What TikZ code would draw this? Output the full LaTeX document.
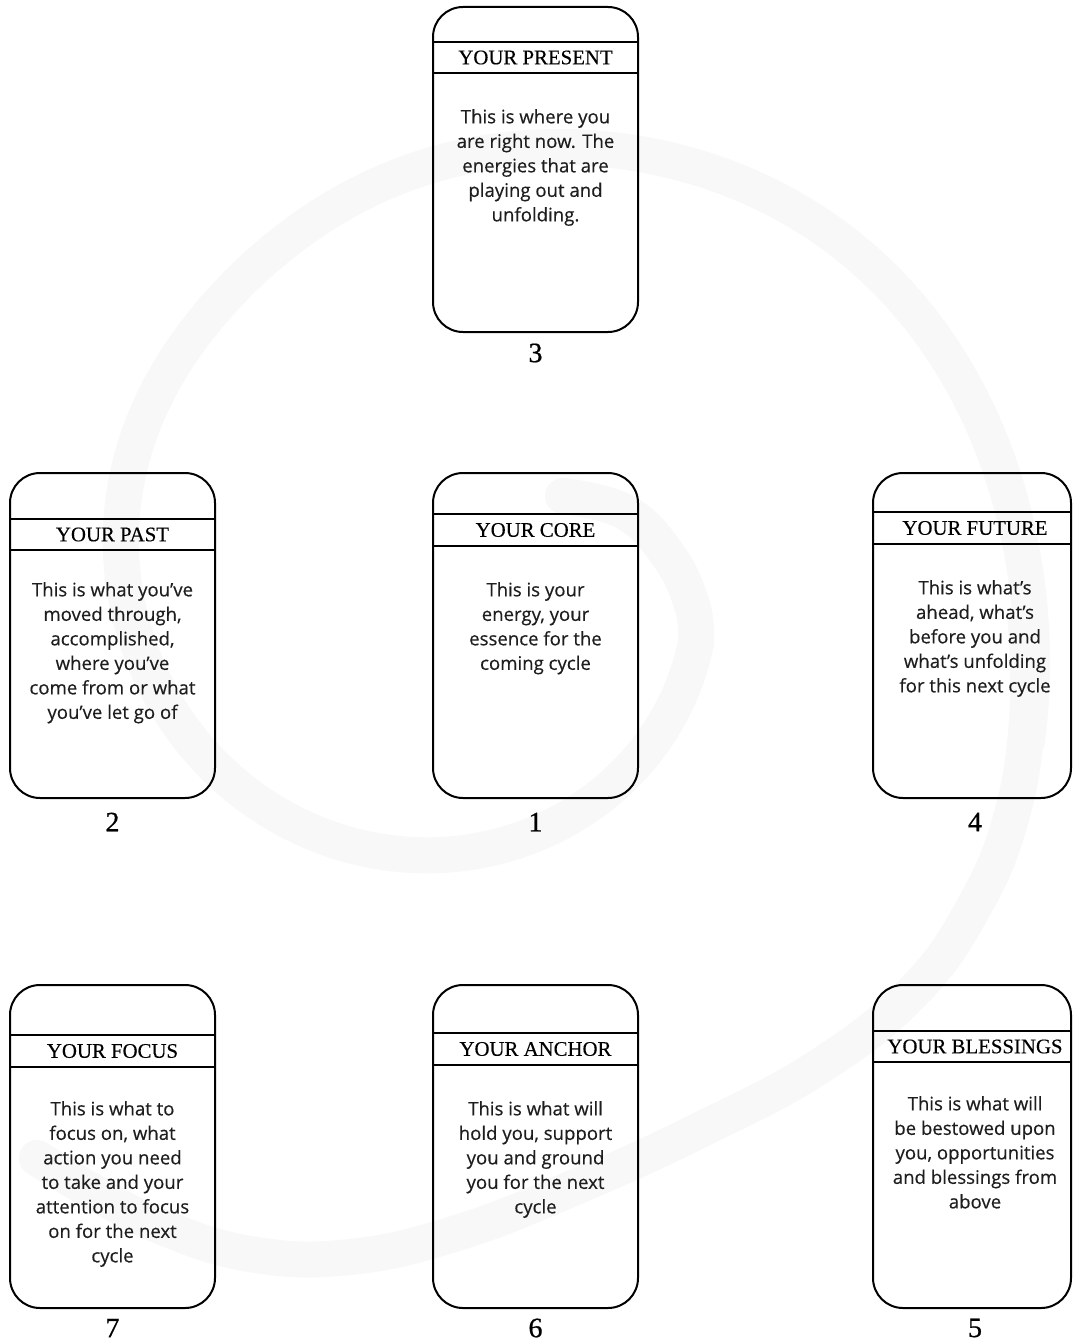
\documentclass[tikz,border=0pt]{standalone}
\usepackage{fontspec}
\setmainfont{Liberation Serif}
\newfontfamily\bodyfont[FakeBold=0.35]{Open Sans}
\newfontfamily\hdrfont[FakeBold=0.3]{Liberation Serif}
\newfontfamily\numfont[FakeBold=0.7]{Liberation Serif}
\definecolor{spir}{RGB}{248,248,248}
\definecolor{bodytext}{RGB}{30,30,30}
\begin{document}
\begin{tikzpicture}[x=1pt,y=-1pt,
  card/.style={draw, line width=2pt, rounded corners=30pt, minimum width=205pt, minimum height=325pt, inner sep=0pt},
  hline/.style={line width=2pt},
  hdr/.style={font=\hdrfont\fontsize{20.8}{24}\selectfont, inner sep=0pt},
  body/.style={font=\bodyfont\fontsize{18.6}{24.5}\selectfont, align=center, text=bodytext, anchor=north, inner sep=0pt},
  num/.style={font=\numfont\fontsize{28}{30}\selectfont, inner sep=0pt},
  spiral/.style={line width=36pt, draw=spir, line cap=round, line join=round}]
\fill[white] (0,0) rectangle (1073,1343);
\useasboundingbox (0,0) rectangle (1073,1343);
\clip (0,0) rectangle (1073,1343);
% background spiral: inner curl, main turn, outer tail
\draw[spiral] plot[smooth, tension=0.7] coordinates {
 (563,496) (625,512) (668,555) (692,605) (696,643)};
\draw[spiral] plot[domain=25:372, samples=180, variable=\t]
 ({491.5+(202.4+0.9228*\t+20*exp(-((\t-318)/35)^2)-14*exp(-((\t-232)/30)^2))*cos(\t)},
  {542+0.2283*\t+(202.4+0.9228*\t+20*exp(-((\t-318)/35)^2)-14*exp(-((\t-232)/30)^2))*sin(\t)});
\draw[spiral] plot[smooth, tension=0.7] coordinates {
 (1026,624) (1027,721) (1011,818) (975,905) (915,990) (820,1066) (700,1130)
 (580,1185) (460,1232) (350,1257) (250,1254) (160,1226) (90,1190) (37,1158)};
% cards
\node[card] (c3) at (535.5,169.5) {};
\node[card] (c2) at (112.5,635.5) {};
\node[card] (c1) at (535.5,635.5) {};
\node[card, minimum width=198pt] (c4) at (972,635.5) {};
\node[card, minimum height=323pt] (c7) at (112.5,1146.5) {};
\node[card, minimum height=323pt] (c6) at (535.5,1146.5) {};
\node[card, minimum width=198pt, minimum height=323pt] (c5) at (972,1146.5) {};
% header bands
\draw[hline] (c3.west |- 0,42) -- (c3.east |- 0,42) (c3.west |- 0,73) -- (c3.east |- 0,73);
\draw[hline] (c2.west |- 0,519) -- (c2.east |- 0,519) (c2.west |- 0,550) -- (c2.east |- 0,550);
\draw[hline] (c1.west |- 0,514) -- (c1.east |- 0,514) (c1.west |- 0,546) -- (c1.east |- 0,546);
\draw[hline] (c4.west |- 0,512) -- (c4.east |- 0,512) (c4.west |- 0,544) -- (c4.east |- 0,544);
\draw[hline] (c7.west |- 0,1035) -- (c7.east |- 0,1035) (c7.west |- 0,1067) -- (c7.east |- 0,1067);
\draw[hline] (c6.west |- 0,1033) -- (c6.east |- 0,1033) (c6.west |- 0,1065) -- (c6.east |- 0,1065);
\draw[hline] (c5.west |- 0,1031) -- (c5.east |- 0,1031) (c5.west |- 0,1062) -- (c5.east |- 0,1062);
% headers
\node[hdr] (h3) at (535.5,57.5) {YOUR PRESENT};
\node[hdr] (h2) at (112.5,534.5) {YOUR PAST};
\node[hdr] (h1) at (535.5,530) {YOUR CORE};
\node[hdr] (h4) at (975,528) {YOUR FUTURE};
\node[hdr] (h7) at (112.5,1051) {YOUR FOCUS};
\node[hdr] (h6) at (535.5,1049) {YOUR ANCHOR};
\node[hdr] (h5) at (975,1046.5) {YOUR BLESSINGS};
% body texts
\node[body] (b3) at (535.5,109) {This is where you\\are right now. The\\energies that are\\playing out and\\unfolding.};
\node[body] (b2) at (112.5,582) {This is what you’ve\\moved through,\\accomplished,\\where you’ve\\come from or what\\you’ve let go of};
\node[body] (b1) at (535.5,582) {This is your\\energy, your\\essence for the\\coming cycle};
\node[body] (b4) at (975,580) {This is what’s\\ahead, what’s\\before you and\\what’s unfolding\\for this next cycle};
\node[body] (b7) at (112.5,1101) {This is what to\\focus on, what\\action you need\\to take and your\\attention to focus\\on for the next\\cycle};
\node[body] (b6) at (535.5,1101) {This is what will\\hold you, support\\you and ground\\you for the next\\cycle};
\node[body] (b5) at (975,1096) {This is what will\\be bestowed upon\\you, opportunities\\and blessings from\\above};
% numbers
\node[num] (n3) at (535.5,353) {3};
\node[num] (n2) at (112.5,822) {2};
\node[num] (n1) at (535.5,822) {1};
\node[num] (n4) at (975,822) {4};
\node[num] (n7) at (112.5,1328) {7};
\node[num] (n6) at (535.5,1328) {6};
\node[num] (n5) at (975,1328) {5};
\end{tikzpicture}
\end{document}
